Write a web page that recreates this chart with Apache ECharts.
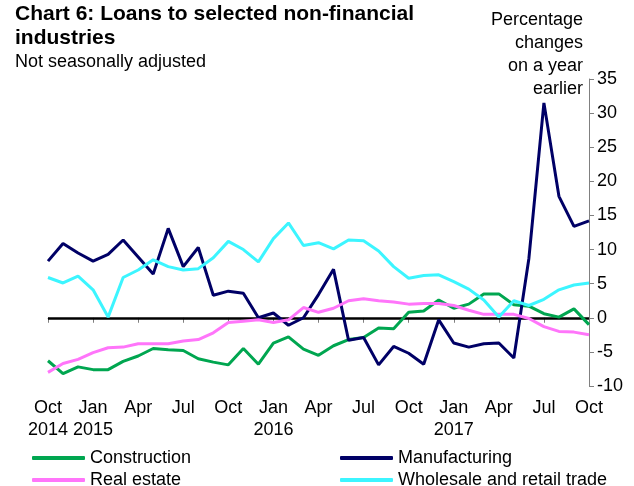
<!DOCTYPE html>
<html>
<head>
<meta charset="utf-8">
<script src="https://cdn.jsdelivr.net/npm/echarts@6/dist/echarts.min.js"></script>
<style>
  html, body { margin: 0; padding: 0; background: #fff; }
  #main { width: 634px; height: 486px; }
</style>
</head>
<body>
<div id="main"></div>
<script>
// monthly, Oct 2014 .. Oct 2017
var months = [
  "Oct 2014", "Nov 2014", "Dec 2014",
  "Jan 2015", "Feb 2015", "Mar 2015", "Apr 2015", "May 2015", "Jun 2015",
  "Jul 2015", "Aug 2015", "Sep 2015", "Oct 2015", "Nov 2015", "Dec 2015",
  "Jan 2016", "Feb 2016", "Mar 2016", "Apr 2016", "May 2016", "Jun 2016",
  "Jul 2016", "Aug 2016", "Sep 2016", "Oct 2016", "Nov 2016", "Dec 2016",
  "Jan 2017", "Feb 2017", "Mar 2017", "Apr 2017", "May 2017", "Jun 2017",
  "Jul 2017", "Aug 2017", "Sep 2017", "Oct 2017"
];

var construction = [
  -6.3, -8.2, -7.2, -7.6, -7.6, -6.4, -5.6, -4.5, -4.7, -4.8, -6.0, -6.5,
  -6.9, -4.5, -6.8, -3.7, -2.8, -4.6, -5.5, -4.1, -3.2, -2.9, -1.5, -1.6,
  0.8, 1.0, 2.6, 1.4, 2.0, 3.5, 3.5, 1.9, 1.7, 0.6, 0.1, 1.3, -1.0
];
var manufacturing = [
  8.3, 10.9, 9.5, 8.3, 9.3, 11.4, 8.9, 6.4, 13.1, 7.5, 10.3, 3.3,
  3.9, 3.6, 0.0, 0.7, -1.1, 0.0, 3.4, 7.1, -3.3, -2.9, -6.9, -4.2,
  -5.2, -6.8, -0.3, -3.7, -4.3, -3.8, -3.7, -5.9, 8.7, 31.5, 17.8, 13.4, 14.2
];
var realEstate = [
  -8.0, -6.7, -6.1, -5.1, -4.4, -4.3, -3.8, -3.8, -3.8, -3.4, -3.2, -2.2,
  -0.7, -0.5, -0.3, -0.7, -0.3, 1.5, 0.8, 1.4, 2.5, 2.8, 2.5, 2.3,
  2.0, 2.1, 2.1, 1.8, 1.1, 0.5, 0.5, 0.5, -0.1, -1.3, -2.0, -2.1, -2.5
];
var wholesale = [
  5.9, 5.1, 6.1, 4.1, 0.1, 5.9, 7.0, 8.5, 7.5, 7.0, 7.2, 8.8,
  11.2, 10.0, 8.2, 11.6, 13.9, 10.6, 11.0, 10.1, 11.4, 11.3, 9.8, 7.5,
  5.8, 6.2, 6.3, 5.3, 4.2, 2.6, 0.1, 2.5, 1.8, 2.7, 4.1, 4.8, 5.1
];

var yMin = -10, yMax = 35, yStep = 5;

var colors = {
  construction: "#00A650",
  manufacturing: "#000066",
  realEstate: "#FF75FA",
  wholesale: "#3CF5FF"
};

var font = "Liberation Sans, Arial, sans-serif";

function tickLabel(value, index) {
  var parts = value.split(" ");
  var m = parts[0];
  if (index === 0 || m === "Jan") {
    return m + "\n" + parts[1];
  }
  return m;
}

function lineSeries(name, data, color) {
  return {
    name: name,
    type: "line",
    data: data,
    symbol: "none",
    lineStyle: { width: 3, color: color },
    itemStyle: { color: color },
    z: 3
  };
}

function legendAt(name, left, top) {
  return {
    data: [name],
    left: left,
    top: top,
    icon: "roundRect",
    itemWidth: 53,
    itemHeight: 4,
    itemGap: 0,
    selectedMode: false,
    textStyle: { fontFamily: font, fontSize: 18, color: "#000", padding: [0, 0, 0, 0] }
  };
}

var chart = echarts.init(document.getElementById("main"));
var series = [
  lineSeries("Construction", construction, colors.construction),
  lineSeries("Manufacturing", manufacturing, colors.manufacturing),
  lineSeries("Real estate", realEstate, colors.realEstate),
  lineSeries("Wholesale and retail trade", wholesale, colors.wholesale)
];
// zero line
series[0].markLine = {
  silent: true,
  symbol: "none",
  label: { show: false },
  lineStyle: { color: "#000", width: 2.5, type: "solid" },
  data: [{ yAxis: 0 }],
  z: 2
};

var noteLines = ["Percentage", "changes", "on a year", "earlier"];
var notes = noteLines.map(function (t, i) {
  return {
    type: "text",
    x: 583,
    y: 11 + i * 23,
    style: {
      text: t,
      fontFamily: font, fontSize: 18,
      fill: "#000", textAlign: "right", align: "right"
    }
  };
});

chart.setOption({
  animation: false,
  backgroundColor: "#fff",
  title: [
    {
      text: "Chart 6: Loans to selected non-financial\nindustries",
      left: 10, top: -3,
      textStyle: { fontFamily: font, fontSize: 21, fontWeight: "bold", color: "#000", lineHeight: 24 }
    },
    {
      text: "Not seasonally adjusted",
      left: 10, top: 48,
      textStyle: { fontFamily: font, fontSize: 18, fontWeight: "normal", color: "#000" }
    }
  ],
  graphic: notes,
  legend: [
    legendAt("Construction", 27, 444),
    legendAt("Manufacturing", 335, 444),
    legendAt("Real estate", 27, 466),
    legendAt("Wholesale and retail trade", 335, 466)
  ],
  grid: { left: 48, right: 45, top: 79, bottom: 100 },
  xAxis: {
    type: "category",
    data: months,
    boundaryGap: false,
    axisLine: { lineStyle: { color: "#808080", width: 1 } },
    axisTick: { interval: 2, length: 5, lineStyle: { color: "#808080" } },
    axisLabel: {
      interval: 2,
      formatter: tickLabel,
      fontFamily: font, fontSize: 18, color: "#000",
      lineHeight: 22, margin: 11
    },
    splitLine: { show: false }
  },
  yAxis: {
    type: "value",
    position: "right",
    min: yMin, max: yMax, interval: yStep,
    axisLine: { show: true, lineStyle: { color: "#808080", width: 1 } },
    axisTick: { show: true, length: 5, lineStyle: { color: "#808080" } },
    axisLabel: { fontFamily: font, fontSize: 18, color: "#000", margin: 8 },
    splitLine: { show: false }
  },
  series: series
});
</script>
</body>
</html>
